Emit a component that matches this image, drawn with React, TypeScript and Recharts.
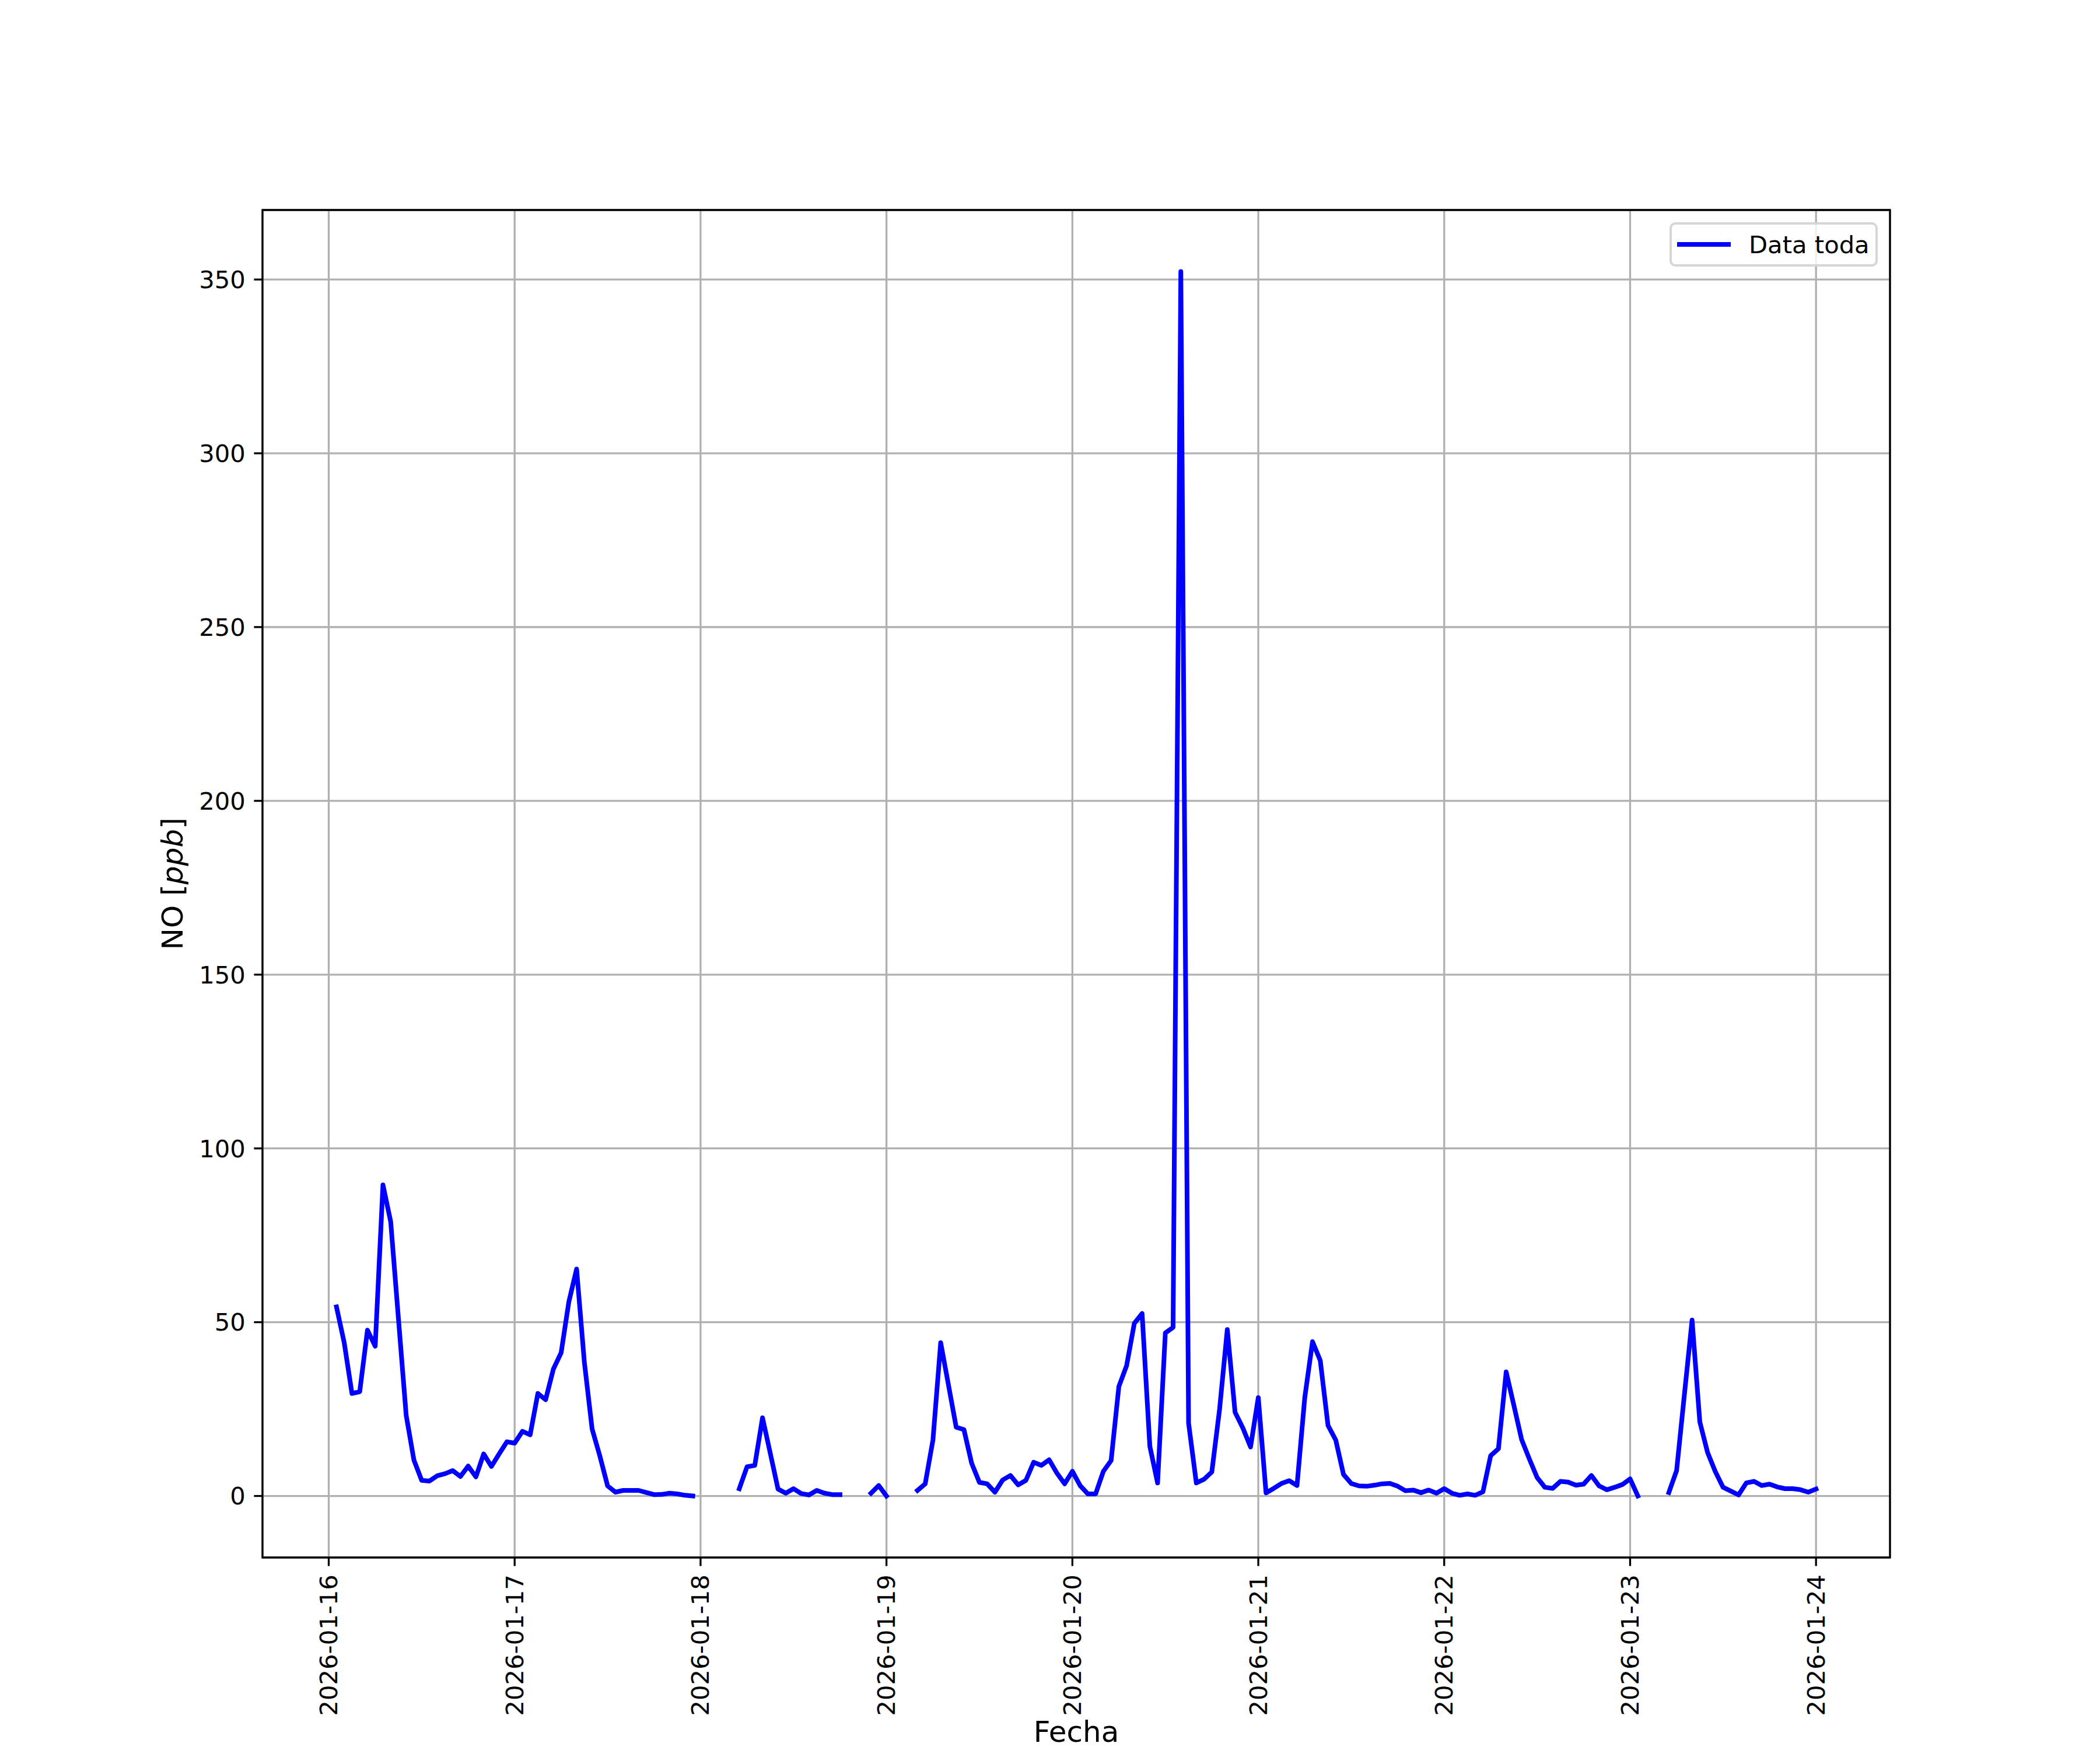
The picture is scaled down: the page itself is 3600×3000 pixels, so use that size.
import {
  LineChart,
  Line,
  XAxis,
  YAxis,
  CartesianGrid,
  ReferenceArea,
  Legend,
  Label,
} from "recharts";

// hourly NO values [ppb], one array per day (index = hour), null = no data
const jan16 = [null, 54.4, 44.1, 29.5, 30.0, 47.7, 43.1, 89.5, 78.9, 51, 23.2, 10.3, 4.5, 4.3, 5.8, 6.4, 7.3, 5.6, 8.6, 5.5, 12.1, 8.5, 12.1, 15.6];
const jan17 = [15.2, 18.6, 17.6, 29.5, 27.7, 36.5, 41.2, 55.9, 65.3, 38.5, 19.3, 11.5, 2.9, 1.1, 1.6, 1.6, 1.6, 1.0, 0.4, 0.45, 0.8, 0.6, 0.2, 0.0];
const jan18 = [null, null, null, null, null, 2.1, 8.4, 8.8, 22.5, 12.3, 2.0, 0.8, 2.1, 0.7, 0.3, 1.6, 0.8, 0.4, 0.4, null, null, null, 0.8, 3.0];
const jan19 = [0, null, null, null, 1.6, 3.5, 16.1, 44.1, 32, 19.8, 19.1, 9.4, 3.9, 3.5, 1.1, 4.6, 5.9, 3.2, 4.5, 9.7, 8.8, 10.4, 6.6, 3.5];
const jan20 = [7.1, 3.0, 0.6, 0.6, 7.1, 10.2, 31.5, 37.5, 49.7, 52.5, 14.3, 3.75, 46.9, 48.5, 352.3, 21.0, 3.75, 4.8, 6.9, 24.9, 47.9, 24.1, 19.6, 14.1];
const jan21 = [28.3, 0.9, 2.2, 3.6, 4.4, 3.0, 28.3, 44.4, 39.0, 20.3, 16.1, 6.2, 3.6, 2.9, 2.8, 3.1, 3.5, 3.6, 2.8, 1.5, 1.7, 0.95, 1.7, 0.8];
const jan22 = [2.1, 0.8, 0.2, 0.6, 0.2, 1.2, 11.6, 13.6, 35.7, 26.0, 16.2, 10.6, 5.3, 2.5, 2.2, 4.2, 4.0, 3.1, 3.4, 5.9, 2.9, 1.8, 2.5, 3.3];
const jan23 = [4.9, 0, null, null, null, 1.0, 7.3, 29, 50.6, 21.3, 12.5, 7.0, 2.5, 1.4, 0.3, 3.75, 4.2, 3.0, 3.4, 2.6, 2.1, 2.1, 1.8, 1.1];
const jan24 = [2.0];

const days = [jan16, jan17, jan18, jan19, jan20, jan21, jan22, jan23, jan24];

const xTickLabels = [
  "2026-01-16",
  "2026-01-17",
  "2026-01-18",
  "2026-01-19",
  "2026-01-20",
  "2026-01-21",
  "2026-01-22",
  "2026-01-23",
  "2026-01-24",
];
const xTicks = xTickLabels.map((_, i) => i * 24);
const yTicks = [0, 50, 100, 150, 200, 250, 300, 350];

// hours since 2026-01-16 00:00
const data: { h: number; no: number | null }[] = [];
days.forEach((vals, d) => {
  vals.forEach((v, h) => {
    if (d === 0 && h === 0) return;
    data.push({ h: d * 24 + h, no: v });
  });
});

const X_DOMAIN: [number, number] = [-8.55, 201.55];
const Y_DOMAIN: [number, number] = [-17.7, 370];
const FONT = "DejaVu Sans";

const XTick = (props: any) => {
  const { x, y, payload } = props;
  return (
    <text
      x={x}
      y={y}
      transform={`rotate(-90 ${x} ${y})`}
      textAnchor="end"
      dominantBaseline="central"
      fontSize={41.7}
      fontFamily={FONT}
      fill="#000"
    >
      {xTickLabels[Math.round(payload.value / 24)]}
    </text>
  );
};

const LegendBox = () => (
  <div
    style={{
      boxSizing: "border-box",
      width: 357,
      height: 76,
      border: "4px solid rgba(204,204,204,0.8)",
      borderRadius: 10,
      background: "rgba(255,255,255,0.8)",
      display: "flex",
      alignItems: "center",
      fontFamily: FONT,
      fontSize: 41.7,
      color: "#000",
    }}
  >
    <div
      style={{
        width: 92,
        height: 8,
        background: "#0000ff",
        marginLeft: 9,
        marginRight: 31,
      }}
    />
    <span>Data toda</span>
  </div>
);

export default function App() {
  return (
    <div
      style={{
        position: "absolute",
        left: 0,
        top: 0,
        width: 3600,
        height: 3000,
        background: "#fff",
        fontFamily: FONT,
      }}
    >
      <LineChart
        width={3600}
        height={3000}
        data={data}
        margin={{ top: 360, right: 360, bottom: 0, left: 0 }}
      >
        <CartesianGrid stroke="#b0b0b0" strokeWidth={3.3} />
        <XAxis
          dataKey="h"
          type="number"
          domain={X_DOMAIN}
          allowDataOverflow
          ticks={xTicks}
          interval={0}
          height={330}
          axisLine={false}
          tickLine={{ stroke: "#000", strokeWidth: 3.3 }}
          tickSize={14.6}
          tickMargin={14.6}
          tick={<XTick />}
        >
          <Label
            content={() => (
              <text
                x={1845}
                y={2986}
                textAnchor="middle"
                fontSize={50}
                fontFamily={FONT}
                fill="#000"
              >
                Fecha
              </text>
            )}
          />
        </XAxis>
        <YAxis
          type="number"
          domain={Y_DOMAIN}
          allowDataOverflow
          ticks={yTicks}
          interval={0}
          width={450}
          axisLine={false}
          tickLine={{ stroke: "#000", strokeWidth: 3.3 }}
          tickSize={14.6}
          tickMargin={14.6}
          tick={{ fontSize: 41.7, fontFamily: FONT, fill: "#000" }}
        >
          <Label
            content={() => (
              <text
                x={296}
                y={1515}
                transform="rotate(-90 296 1515)"
                textAnchor="middle"
                dominantBaseline="central"
                fontSize={50}
                fontFamily={FONT}
                fill="#000"
              >
                NO [<tspan fontStyle="italic">ppb</tspan>]
              </text>
            )}
          />
        </YAxis>
        <Line
          type="linear"
          dataKey="no"
          stroke="#0000ff"
          strokeWidth={8}
          strokeLinejoin="round"
          strokeLinecap="square"
          dot={false}
          activeDot={false}
          isAnimationActive={false}
        />
        <ReferenceArea
          x1={X_DOMAIN[0]}
          x2={X_DOMAIN[1]}
          y1={Y_DOMAIN[0]}
          y2={Y_DOMAIN[1]}
          fill="none"
          fillOpacity={0}
          stroke="#000"
          strokeWidth={3.3}
          ifOverflow="visible"
        />
        <Legend
          layout="vertical"
          align="center"
          verticalAlign="middle"
          content={() => <LegendBox />}
          wrapperStyle={{ left: 2862, top: 381, width: 357, height: 76 }}
        />
      </LineChart>
    </div>
  );
}
